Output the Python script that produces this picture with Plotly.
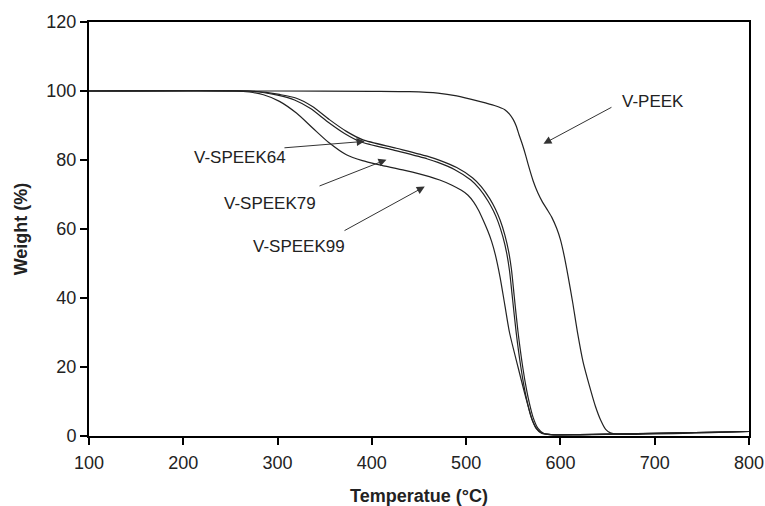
import plotly.graph_objects as go

# TGA curves: temperature (°C) vs residual weight (%)
peek_t = [100, 200, 300, 400, 440, 470, 490, 514, 530, 541, 546, 550, 553, 556, 560, 563, 566, 571, 576, 581, 586, 591,
          596, 600, 604, 608, 613, 618, 624, 631, 637, 643, 648, 653, 660, 680, 720, 760, 800]
peek_w = [100, 100, 100, 99.9, 99.8, 99.4, 98.6, 97.0, 95.8, 94.6, 93.3, 91.7, 89.9, 87.4, 84.2, 81.5, 78.5, 74.0, 70.5,
          67.8, 65.6, 63.3, 60.2, 56.9, 52.2, 46.5, 38.7, 30.2, 21.5, 14.3, 8.7, 4.4, 1.9, 0.9, 0.5, 0.5, 0.7, 1.0, 1.3]

s64_t = [100, 270, 288, 302, 320, 337, 355, 373, 390, 426, 461, 472, 490, 507, 516, 525, 531, 536, 541, 545, 548, 551,
         555, 560, 564, 567, 571, 576, 582, 590, 620, 700, 800]
s64_w = [100, 100, 99.6, 99.0, 97.9, 95.5, 91.7, 88.3, 85.9, 83.4, 80.9, 79.9, 77.8, 74.8, 72.3, 68.8, 65.8, 62.6, 58.3,
         53.6, 48.4, 40.5, 30.2, 20.0, 13.5, 9.6, 5.4, 2.3, 0.8, 0.4, 0.4, 0.8, 1.3]

s79_t = [100, 268, 286, 300, 318, 335, 353, 371, 388, 424, 459, 470, 488, 505, 514, 523, 529, 534, 539, 543, 546, 549,
         553, 558, 562, 565, 569, 574, 580, 590, 620, 700, 800]
s79_w = [100, 100, 99.5, 98.8, 97.4, 94.9, 91.1, 87.7, 85.3, 82.8, 80.3, 79.3, 77.2, 74.2, 71.7, 68.2, 65.2, 62.0, 57.7,
         53.0, 47.9, 40.3, 30.2, 20.0, 13.5, 9.6, 5.4, 2.3, 0.8, 0.4, 0.4, 0.8, 1.3]

s99_t = [100, 255, 270, 285, 302, 320, 337.5, 355, 373, 390, 408, 435, 461, 472, 485, 495, 502, 508, 513, 518, 523, 527,
         531, 536, 541, 546, 555, 564, 570, 575, 580, 590, 620, 700, 800]
s99_w = [100, 100, 99.7, 98.9, 97.0, 93.6, 89.2, 84.9, 81.5, 79.8, 78.6, 77.0, 75.2, 74.2, 72.7, 71.2, 69.8, 67.8, 65.5,
         62.6, 59.4, 56.4, 52.5, 46.0, 38.0, 30.0, 20.0, 10.4, 4.8, 2.1, 0.9, 0.4, 0.3, 0.8, 1.3]

x_ticks = [100, 200, 300, 400, 500, 600, 700, 800]
y_ticks = [0, 20, 40, 60, 80, 100, 120]

# label text, label position, arrow tail, arrow tip (data units)
labels = [
    ("V-PEEK", 698, 97.0, 655.7, 95.5, 582.0, 84.7),
    ("V-SPEEK64", 259.8, 80.6, 305.7, 83.5, 392.4, 85.4),
    ("V-SPEEK79", 291.6, 67.5, 342.9, 72.3, 415.5, 80.1),
    ("V-SPEEK99", 322.4, 54.9, 369.4, 59.3, 456.1, 72.3),
]

FONT = "Arial, Liberation Sans, sans-serif"

fig = go.Figure()
for t, w in [(peek_t, peek_w), (s64_t, s64_w), (s79_t, s79_w), (s99_t, s99_w)]:
    fig.add_trace(go.Scatter(x=t, y=w, mode="lines",
                             line=dict(color="#222222", width=1.2, shape="spline", smoothing=0.7),
                             showlegend=False, hoverinfo="skip"))

for text, tx, ty, x0, y0, x1, y1 in labels:
    fig.add_annotation(x=x1, y=y1, ax=x0, ay=y0, xref="x", yref="y", axref="x", ayref="y",
                       text="", showarrow=True, arrowhead=2, arrowsize=1.6, arrowwidth=1,
                       arrowcolor="#333333")
    fig.add_annotation(x=tx, y=ty, xref="x", yref="y", text=text, showarrow=False,
                       font=dict(family=FONT, size=17, color="#222222"))

fig.update_layout(
    width=765, height=506,
    margin=dict(l=89, r=16, t=22, b=70),
    paper_bgcolor="white", plot_bgcolor="white",
    font=dict(family=FONT, size=18, color="#222222"),
)
fig.update_xaxes(range=[100, 800], tickvals=x_ticks, ticks="outside", ticklen=7, tickwidth=1.5,
                 tickcolor="black", showline=True, linecolor="black", linewidth=2, mirror=True,
                 showgrid=False, zeroline=False, tickfont=dict(size=18), automargin=False,
                 ticklabelstandoff=2,
                 title=dict(text="<b>Temperatue (°C)</b>", font=dict(size=18), standoff=18))
fig.update_yaxes(range=[0, 120], tickvals=y_ticks, ticks="outside", ticklen=7, tickwidth=1.5,
                 tickcolor="black", showline=True, linecolor="black", linewidth=2, mirror=True,
                 showgrid=False, zeroline=False, tickfont=dict(size=18), automargin=False,
                 title=dict(text="<b>Weight (%)</b>", font=dict(size=18), standoff=14))

fig.write_html("out.html")
